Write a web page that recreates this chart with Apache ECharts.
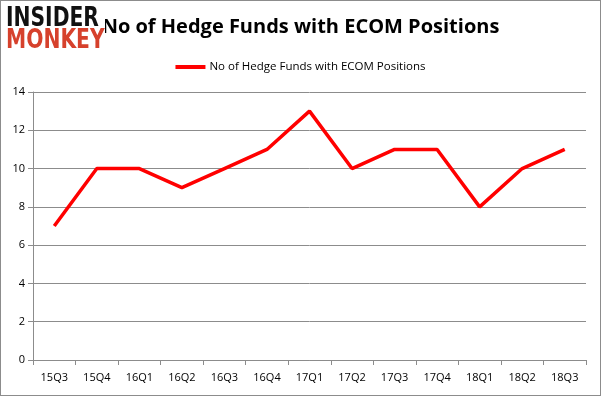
<!DOCTYPE html>
<html>
<head>
<meta charset="utf-8">
<script src="https://cdn.jsdelivr.net/npm/echarts@6/dist/echarts.min.js"></script>
<style>
  html, body { margin: 0; padding: 0; background: #fff; }
  #chart { width: 601px; height: 396px; box-sizing: border-box; border: 1px solid #8c8c8c; }
</style>
</head>
<body>
<div id="chart"></div>
<script>
var quarters = ['15Q3', '15Q4', '16Q1', '16Q2', '16Q3', '16Q4', '17Q1', '17Q2', '17Q3', '17Q4', '18Q1', '18Q2', '18Q3'];
var fundCounts = [7, 10, 10, 9, 10, 11, 13, 10, 11, 11, 8, 10, 11];
var seriesName = 'No of Hedge Funds with ECOM Positions';

var chart = echarts.init(document.getElementById('chart'));
chart.setOption({
  backgroundColor: '#fff',
  animation: false,
  title: {
    text: seriesName,
    left: 'center',
    top: 11,
    textStyle: { fontFamily: 'Open Sans', fontWeight: 'bold', fontSize: 20, color: '#000' }
  },
  legend: {
    top: 55,
    left: 'center',
    itemWidth: 30,
    itemHeight: 4,
    itemGap: 4,
    icon: 'rect',
    textStyle: { fontFamily: 'Open Sans', fontSize: 11.5, color: '#000', padding: [0, 0, 0, -1] },
    data: [seriesName]
  },
  graphic: [
    // logo sits on a white block that covers the edge of the title
    { type: 'rect', left: 1, top: 1, z: 100, shape: { width: 103, height: 52 }, style: { fill: '#fff' } },
    { type: 'text', left: 5, top: 5, z: 101, scaleX: 0.78, style: { text: 'INSIDER', font: '900 26px "DejaVu Sans"', fill: '#111' } },
    { type: 'text', left: 5, top: 27, z: 101, scaleX: 0.78, style: { text: 'MONKEY', font: '900 26px "DejaVu Sans"', fill: '#d6412c' } }
  ],
  grid: { left: 32, right: 14, top: 91, bottom: 35, containLabel: false },
  xAxis: {
    type: 'category',
    data: quarters,
    boundaryGap: true,
    axisLine: { lineStyle: { color: '#8c8c8c', width: 1 } },
    axisTick: { show: true, length: 5, lineStyle: { color: '#8c8c8c' } },
    axisLabel: { fontFamily: 'Open Sans', fontSize: 11, color: '#000', margin: 12, interval: 0 }
  },
  yAxis: {
    type: 'value',
    min: 0,
    max: 14,
    interval: 2,
    axisLine: { show: true, lineStyle: { color: '#8c8c8c' } },
    axisTick: { show: true, length: 5, lineStyle: { color: '#8c8c8c' } },
    axisLabel: { fontFamily: 'Open Sans', fontSize: 11, color: '#000', margin: 8 },
    splitLine: { lineStyle: { color: '#8c8c8c', width: 1 } }
  },
  series: [{
    name: seriesName,
    type: 'line',
    data: fundCounts,
    symbol: 'none',
    lineStyle: { color: '#ff0000', width: 3.5 },
    itemStyle: { color: '#ff0000' }
  }]
});
</script>
</body>
</html>
